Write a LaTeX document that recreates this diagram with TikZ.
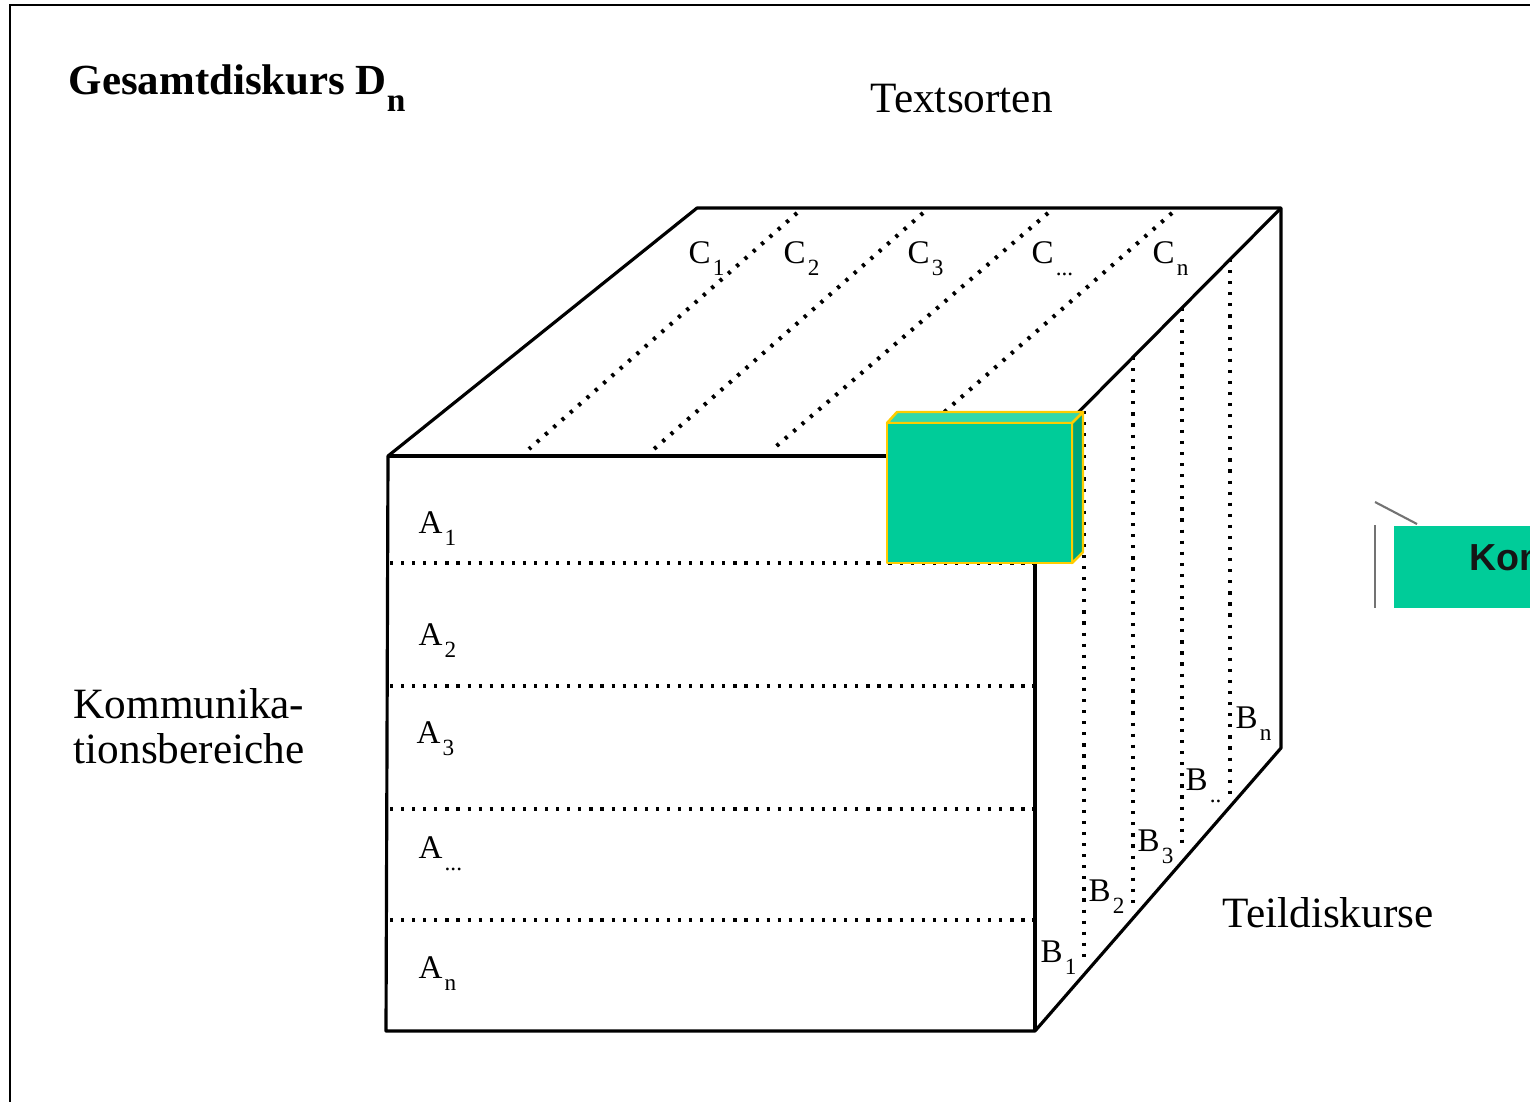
\documentclass[tikz,border=0pt]{standalone}
\usepackage{fontspec}
\setmainfont{Liberation Serif}
\newfontfamily\tagfont{Liberation Sans}
\usetikzlibrary{calc}
\definecolor{boxfront}{HTML}{00CC99}
\definecolor{boxtop}{HTML}{33D8AA}
\definecolor{boxside}{HTML}{00A67A}
\definecolor{boxyellow}{HTML}{FFCC00}
\definecolor{tagtext}{HTML}{151515}
\tikzset{
  frame line/.style={line width=0.75pt, black},
  cube edge/.style={line width=0.9pt, black, line join=round},
  strip line/.style={line width=1.15pt, black, dash pattern=on 0.9pt off 2.25pt},
  box edge/.style={line width=0.7pt, draw=boxyellow, line join=round},
  pointer line/.style={line width=0.6pt, black!55},
  cell label/.style={font=\fontsize{9.4}{10}\selectfont, inner sep=0pt, anchor=base west},
  title label/.style={font=\fontsize{12.3}{12.8}\selectfont, inner sep=0pt, anchor=base west},
  tag label/.style={font=\tagfont\bfseries\fontsize{10.7}{12}\selectfont, text=tagtext, inner sep=0pt, anchor=base west},
}
\newcommand{\cellSub}[2]{#1\hspace{0.6pt}\raisebox{-3.6pt}{\fontsize{6.6}{7}\selectfont #2}}

\begin{document}
\begin{tikzpicture}[x=0.01cm, y=-0.01cm]
  \useasboundingbox (0,0) rectangle (1530,1102);
  \draw[frame line] (1530,5) -- (10,5) -- (10,1102);
  % corners of the cube
  \coordinate (FTL) at (388,456);
  \coordinate (FTR) at (1035,456);
  \coordinate (FBL) at (386,1031);
  \coordinate (FBR) at (1035,1031);
  \coordinate (BTL) at (697,208);
  \coordinate (BTR) at (1281,208);
  \coordinate (BBR) at (1281,748);
  % dotted strips
  \foreach \y in {563,686,809,920}
    \draw[strip line] (390,\y) -- (1035,\y);
  \foreach \xt/\xb in {797/529, 923/654, 1048/773, 1172/902}
    \draw[strip line] (\xt,213) -- (\xb,449);
  \foreach \x/\yt/\yb in {1084/411/960, 1133/357/908, 1182/308/846, 1230/259/798}
    \draw[strip line] (\x,\yt) -- (\x,\yb);
  % edges
  \draw[cube edge] (FBR) -- (FBL) -- (FTL) -- (BTL) -- (BTR) -- (BBR) -- cycle;
  \draw[cube edge] (FTL) -- (FTR) -- (FBR);
  \draw[cube edge] (FTR) -- (BTR);
  % green block
  \draw[box edge, fill=boxtop] (887,423) -- (897,412) -- (1083,412) -- (1072,423) -- cycle;
  \draw[box edge, fill=boxside] (1072,423) -- (1083,412) -- (1083,552) -- (1072,563) -- cycle;
  \draw[box edge, fill=boxfront] (887,423) rectangle (1072,563);
  % labels A
  \node[cell label] (a1) at (418,533) {\cellSub{A}{1}};
  \node[cell label] (a2) at (418,645) {\cellSub{A}{2}};
  \node[cell label] (a3) at (416,743) {\cellSub{A}{3}};
  \node[cell label] (a4) at (418,858) {\cellSub{A}{...}};
  \node[cell label] (an) at (418,978) {\cellSub{A}{n}};
  % labels C
  \node[cell label] (c1) at (688,263) {\cellSub{C}{1}};
  \node[cell label] (c2) at (783,263) {\cellSub{C}{2}};
  \node[cell label] (c3) at (907,263) {\cellSub{C}{3}};
  \node[cell label] (c4) at (1031,263) {\cellSub{C}{...}};
  \node[cell label] (cn) at (1152,263) {\cellSub{C}{n}};
  % labels B
  \node[cell label] (b1) at (1040,962) {\cellSub{B}{1}};
  \node[cell label] (b2) at (1088,901) {\cellSub{B}{2}};
  \node[cell label] (b3) at (1137,851) {\cellSub{B}{3}};
  \node[cell label] (b4) at (1185,790) {\cellSub{B}{..}};
  \node[cell label] (bn) at (1235,728) {\cellSub{B}{n}};
  % titles
  \node[title label, font=\bfseries\fontsize{12.2}{13}\selectfont] (total) at (68,94) {Gesamtdiskurs D\raisebox{-5pt}{\fontsize{9.5}{10}\selectfont n}};
  \node[title label] (types) at (870,112) {Textsorten};
  \node[title label, align=left, font=\fontsize{12.3}{12.8}\selectfont] (areas) at (73,763) {Kommunika-\\tionsbereiche};
  \node[title label] (parts) at (1222,927) {Teildiskurse};
  % cut-off tag at the right
  \begin{scope}
    \clip (0,0) rectangle (1530,1102);
    \fill[boxfront] (1394,526) rectangle (1560,608);
    \node[tag label] (tag) at (1469,570) {Kom};
  \end{scope}
  \draw[pointer line] (1375,525) -- (1375,608);
  \draw[pointer line] (1375,502) -- (1417,524);
\end{tikzpicture}
\end{document}
